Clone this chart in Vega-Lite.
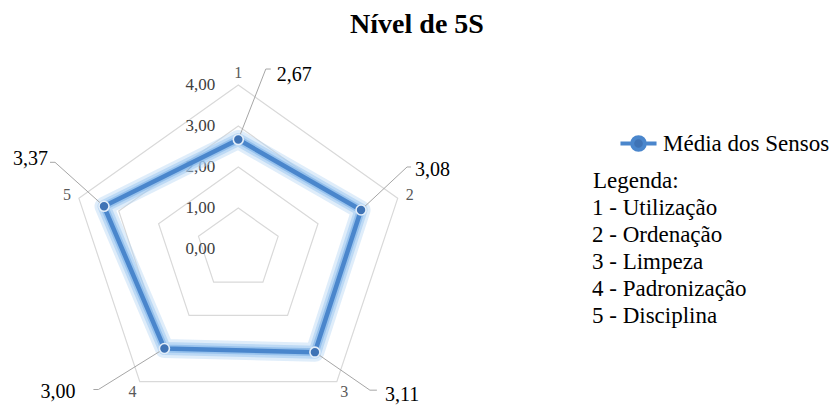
{
  "$schema": "https://vega.github.io/schema/vega-lite/v6.json",
  "width": 838,
  "height": 367,
  "autosize": "none",
  "padding": {"top": 40, "left": 0, "right": 0, "bottom": 0},
  "title": {"text": "Nível de 5S", "font": "Liberation Serif", "fontSize": 28, "fontWeight": "bold", "color": "#000000", "anchor": "middle", "frame": "group", "offset": -21, "baseline": "alphabetic", "dx": -2},
  "datasets": {
    "serie": [
      {"eixo": 1, "senso": "Utilização", "valor": 2.67},
      {"eixo": 2, "senso": "Ordenação", "valor": 3.08},
      {"eixo": 3, "senso": "Limpeza", "valor": 3.11},
      {"eixo": 4, "senso": "Padronização", "valor": 3.00},
      {"eixo": 5, "senso": "Disciplina", "valor": 3.37}
    ],
    "grade": [
      {"nivel": 1, "eixo": 1}, {"nivel": 1, "eixo": 2}, {"nivel": 1, "eixo": 3}, {"nivel": 1, "eixo": 4}, {"nivel": 1, "eixo": 5},
      {"nivel": 2, "eixo": 1}, {"nivel": 2, "eixo": 2}, {"nivel": 2, "eixo": 3}, {"nivel": 2, "eixo": 4}, {"nivel": 2, "eixo": 5},
      {"nivel": 3, "eixo": 1}, {"nivel": 3, "eixo": 2}, {"nivel": 3, "eixo": 3}, {"nivel": 3, "eixo": 4}, {"nivel": 3, "eixo": 5},
      {"nivel": 4, "eixo": 1}, {"nivel": 4, "eixo": 2}, {"nivel": 4, "eixo": 3}, {"nivel": 4, "eixo": 4}, {"nivel": 4, "eixo": 5}
    ],
    "niveis": [{"nivel": 0}, {"nivel": 1}, {"nivel": 2}, {"nivel": 3}, {"nivel": 4}]
  },
  "encoding": {
    "x": {"field": "px", "type": "quantitative", "scale": {"domain": [-5.6874, 14.3126], "nice": false, "zero": false}, "axis": null},
    "y": {"field": "py", "type": "quantitative", "scale": {"domain": [-3.8537, 5.0976], "nice": false, "zero": false}, "axis": null}
  },
  "layer": [
    {
      "data": {"name": "grade"},
      "transform": [
        {"calculate": "(datum.eixo - 1) * 2 * PI / 5", "as": "ang"},
        {"calculate": "datum.nivel * sin(datum.ang)", "as": "px"},
        {"calculate": "datum.nivel * cos(datum.ang)", "as": "py"}
      ],
      "mark": {"type": "line", "interpolate": "linear-closed", "color": "#d9d9d9", "strokeWidth": 1.2},
      "encoding": {"detail": {"field": "nivel", "type": "nominal"}, "order": {"field": "eixo", "type": "quantitative"}}
    },
    {
      "data": {"name": "niveis"},
      "transform": [
        {"calculate": "0", "as": "px"},
        {"calculate": "datum.nivel", "as": "py"}
      ],
      "mark": {"type": "text", "align": "right", "baseline": "middle", "dx": -23, "font": "Liberation Serif", "fontSize": 17, "color": "#404040"},
      "encoding": {"text": {"field": "nivel", "type": "quantitative", "format": ".2f"}}
    },
    {
      "data": {"name": "serie"},
      "transform": [
        {"calculate": "(datum.eixo - 1) * 2 * PI / 5", "as": "ang"},
        {"calculate": "datum.valor * sin(datum.ang)", "as": "px"},
        {"calculate": "datum.valor * cos(datum.ang)", "as": "py"}
      ],
      "mark": {"type": "line", "interpolate": "linear-closed", "color": "#b9d8f5", "strokeWidth": 19, "opacity": 0.45, "strokeJoin": "round"},
      "encoding": {"order": {"field": "eixo", "type": "quantitative"}}
    },
    {
      "data": {"name": "serie"},
      "transform": [
        {"calculate": "(datum.eixo - 1) * 2 * PI / 5", "as": "ang"},
        {"calculate": "datum.valor * sin(datum.ang)", "as": "px"},
        {"calculate": "datum.valor * cos(datum.ang)", "as": "py"}
      ],
      "mark": {"type": "line", "interpolate": "linear-closed", "color": "#9fc9f0", "strokeWidth": 13, "opacity": 0.55, "strokeJoin": "round"},
      "encoding": {"order": {"field": "eixo", "type": "quantitative"}}
    },
    {
      "data": {"name": "serie"},
      "transform": [
        {"calculate": "(datum.eixo - 1) * 2 * PI / 5", "as": "ang"},
        {"calculate": "datum.valor * sin(datum.ang)", "as": "px"},
        {"calculate": "datum.valor * cos(datum.ang)", "as": "py"}
      ],
      "mark": {"type": "line", "interpolate": "linear-closed", "color": "#7fb3e8", "strokeWidth": 8, "opacity": 0.6, "strokeJoin": "round"},
      "encoding": {"order": {"field": "eixo", "type": "quantitative"}}
    },
    {
      "data": {"name": "serie"},
      "transform": [
        {"calculate": "(datum.eixo - 1) * 2 * PI / 5", "as": "ang"},
        {"calculate": "datum.valor * sin(datum.ang)", "as": "px"},
        {"calculate": "datum.valor * cos(datum.ang)", "as": "py"}
      ],
      "mark": {"type": "line", "interpolate": "linear-closed", "strokeWidth": 4.5, "strokeJoin": "round"},
      "encoding": {
        "order": {"field": "eixo", "type": "quantitative"},
        "color": {"datum": "Média dos Sensos", "type": "nominal", "scale": {"range": ["#4a86cc"]},
          "legend": {"orient": "none", "legendX": 618, "legendY": 83, "title": null, "padding": 0,
            "symbolType": "M-1,0L-0.35,0M0.35,0L1,0M0.35,0A0.35,0.35,0,1,1,-0.35,0A0.35,0.35,0,1,1,0.35,0",
            "symbolSize": 1300, "symbolStrokeWidth": 4, "symbolFillColor": "#3f73b5", "symbolStrokeColor": "#4a86cc",
            "labelFont": "Liberation Serif", "labelFontSize": 23, "labelColor": "#000000", "labelOffset": 4, "labelLimit": 400}}
      }
    },
    {"data": {"name": "serie"}, "transform": [{"filter": "datum.eixo == 1"}, {"calculate": "datum.valor * sin((datum.eixo - 1) * 2 * PI / 5)", "as": "px"}, {"calculate": "datum.valor * cos((datum.eixo - 1) * 2 * PI / 5)", "as": "py"}],
      "mark": {"type": "rule", "color": "#a6a6a6", "strokeWidth": 1, "x2Offset": 27.5, "y2Offset": -70.5},
      "encoding": {"x2": {"field": "px"}, "y2": {"field": "py"}}},
    {"data": {"name": "serie"}, "transform": [{"filter": "datum.eixo == 1"}, {"calculate": "datum.valor * sin((datum.eixo - 1) * 2 * PI / 5)", "as": "px"}, {"calculate": "datum.valor * cos((datum.eixo - 1) * 2 * PI / 5)", "as": "py"}],
      "mark": {"type": "rule", "color": "#a6a6a6", "strokeWidth": 1, "xOffset": 27.5, "yOffset": -70.5, "x2Offset": 32.5, "y2Offset": -70.5},
      "encoding": {"x2": {"field": "px"}, "y2": {"field": "py"}}},
    {"data": {"name": "serie"}, "transform": [{"filter": "datum.eixo == 1"}, {"calculate": "datum.valor * sin((datum.eixo - 1) * 2 * PI / 5)", "as": "px"}, {"calculate": "datum.valor * cos((datum.eixo - 1) * 2 * PI / 5)", "as": "py"}],
      "mark": {"type": "text", "align": "left", "baseline": "middle", "dx": 38.5, "dy": -64.5, "font": "Liberation Serif", "fontSize": 20, "color": "#000000"},
      "encoding": {"text": {"field": "valor", "type": "quantitative", "format": ".2f"}}},
    {"data": {"name": "serie"}, "transform": [{"filter": "datum.eixo == 2"}, {"calculate": "datum.valor * sin((datum.eixo - 1) * 2 * PI / 5)", "as": "px"}, {"calculate": "datum.valor * cos((datum.eixo - 1) * 2 * PI / 5)", "as": "py"}],
      "mark": {"type": "rule", "color": "#a6a6a6", "strokeWidth": 1, "x2Offset": 46, "y2Offset": -43},
      "encoding": {"x2": {"field": "px"}, "y2": {"field": "py"}}},
    {"data": {"name": "serie"}, "transform": [{"filter": "datum.eixo == 2"}, {"calculate": "datum.valor * sin((datum.eixo - 1) * 2 * PI / 5)", "as": "px"}, {"calculate": "datum.valor * cos((datum.eixo - 1) * 2 * PI / 5)", "as": "py"}],
      "mark": {"type": "rule", "color": "#a6a6a6", "strokeWidth": 1, "xOffset": 46, "yOffset": -43, "x2Offset": 50, "y2Offset": -43},
      "encoding": {"x2": {"field": "px"}, "y2": {"field": "py"}}},
    {"data": {"name": "serie"}, "transform": [{"filter": "datum.eixo == 2"}, {"calculate": "datum.valor * sin((datum.eixo - 1) * 2 * PI / 5)", "as": "px"}, {"calculate": "datum.valor * cos((datum.eixo - 1) * 2 * PI / 5)", "as": "py"}],
      "mark": {"type": "text", "align": "left", "baseline": "middle", "dx": 54, "dy": -40, "font": "Liberation Serif", "fontSize": 20, "color": "#000000"},
      "encoding": {"text": {"field": "valor", "type": "quantitative", "format": ".2f"}}},
    {"data": {"name": "serie"}, "transform": [{"filter": "datum.eixo == 3"}, {"calculate": "datum.valor * sin((datum.eixo - 1) * 2 * PI / 5)", "as": "px"}, {"calculate": "datum.valor * cos((datum.eixo - 1) * 2 * PI / 5)", "as": "py"}],
      "mark": {"type": "rule", "color": "#a6a6a6", "strokeWidth": 1, "x2Offset": 55, "y2Offset": 38},
      "encoding": {"x2": {"field": "px"}, "y2": {"field": "py"}}},
    {"data": {"name": "serie"}, "transform": [{"filter": "datum.eixo == 3"}, {"calculate": "datum.valor * sin((datum.eixo - 1) * 2 * PI / 5)", "as": "px"}, {"calculate": "datum.valor * cos((datum.eixo - 1) * 2 * PI / 5)", "as": "py"}],
      "mark": {"type": "rule", "color": "#a6a6a6", "strokeWidth": 1, "xOffset": 55, "yOffset": 38, "x2Offset": 62, "y2Offset": 38},
      "encoding": {"x2": {"field": "px"}, "y2": {"field": "py"}}},
    {"data": {"name": "serie"}, "transform": [{"filter": "datum.eixo == 3"}, {"calculate": "datum.valor * sin((datum.eixo - 1) * 2 * PI / 5)", "as": "px"}, {"calculate": "datum.valor * cos((datum.eixo - 1) * 2 * PI / 5)", "as": "py"}],
      "mark": {"type": "text", "align": "left", "baseline": "middle", "dx": 70, "dy": 43, "font": "Liberation Serif", "fontSize": 20, "color": "#000000"},
      "encoding": {"text": {"field": "valor", "type": "quantitative", "format": ".2f"}}},
    {"data": {"name": "serie"}, "transform": [{"filter": "datum.eixo == 4"}, {"calculate": "datum.valor * sin((datum.eixo - 1) * 2 * PI / 5)", "as": "px"}, {"calculate": "datum.valor * cos((datum.eixo - 1) * 2 * PI / 5)", "as": "py"}],
      "mark": {"type": "rule", "color": "#a6a6a6", "strokeWidth": 1, "x2Offset": -66, "y2Offset": 41},
      "encoding": {"x2": {"field": "px"}, "y2": {"field": "py"}}},
    {"data": {"name": "serie"}, "transform": [{"filter": "datum.eixo == 4"}, {"calculate": "datum.valor * sin((datum.eixo - 1) * 2 * PI / 5)", "as": "px"}, {"calculate": "datum.valor * cos((datum.eixo - 1) * 2 * PI / 5)", "as": "py"}],
      "mark": {"type": "rule", "color": "#a6a6a6", "strokeWidth": 1, "xOffset": -66, "yOffset": 41, "x2Offset": -71, "y2Offset": 41},
      "encoding": {"x2": {"field": "px"}, "y2": {"field": "py"}}},
    {"data": {"name": "serie"}, "transform": [{"filter": "datum.eixo == 4"}, {"calculate": "datum.valor * sin((datum.eixo - 1) * 2 * PI / 5)", "as": "px"}, {"calculate": "datum.valor * cos((datum.eixo - 1) * 2 * PI / 5)", "as": "py"}],
      "mark": {"type": "text", "align": "right", "baseline": "middle", "dx": -89, "dy": 43, "font": "Liberation Serif", "fontSize": 20, "color": "#000000"},
      "encoding": {"text": {"field": "valor", "type": "quantitative", "format": ".2f"}}},
    {"data": {"name": "serie"}, "transform": [{"filter": "datum.eixo == 5"}, {"calculate": "datum.valor * sin((datum.eixo - 1) * 2 * PI / 5)", "as": "px"}, {"calculate": "datum.valor * cos((datum.eixo - 1) * 2 * PI / 5)", "as": "py"}],
      "mark": {"type": "rule", "color": "#a6a6a6", "strokeWidth": 1, "x2Offset": -49, "y2Offset": -44},
      "encoding": {"x2": {"field": "px"}, "y2": {"field": "py"}}},
    {"data": {"name": "serie"}, "transform": [{"filter": "datum.eixo == 5"}, {"calculate": "datum.valor * sin((datum.eixo - 1) * 2 * PI / 5)", "as": "px"}, {"calculate": "datum.valor * cos((datum.eixo - 1) * 2 * PI / 5)", "as": "py"}],
      "mark": {"type": "rule", "color": "#a6a6a6", "strokeWidth": 1, "xOffset": -49, "yOffset": -44, "x2Offset": -54, "y2Offset": -44},
      "encoding": {"x2": {"field": "px"}, "y2": {"field": "py"}}},
    {"data": {"name": "serie"}, "transform": [{"filter": "datum.eixo == 5"}, {"calculate": "datum.valor * sin((datum.eixo - 1) * 2 * PI / 5)", "as": "px"}, {"calculate": "datum.valor * cos((datum.eixo - 1) * 2 * PI / 5)", "as": "py"}],
      "mark": {"type": "text", "align": "right", "baseline": "middle", "dx": -56, "dy": -47, "font": "Liberation Serif", "fontSize": 20, "color": "#000000"},
      "encoding": {"text": {"field": "valor", "type": "quantitative", "format": ".2f"}}},
    {
      "data": {"name": "serie"},
      "transform": [
        {"calculate": "(datum.eixo - 1) * 2 * PI / 5", "as": "ang"},
        {"calculate": "datum.valor * sin(datum.ang)", "as": "px"},
        {"calculate": "datum.valor * cos(datum.ang)", "as": "py"}
      ],
      "mark": {"type": "point", "shape": "circle", "filled": true, "size": 100, "fill": "#3f73b5", "stroke": "#e3eef9", "strokeWidth": 1.6, "opacity": 1}
    },
    {
      "data": {"name": "serie"},
      "transform": [
        {"calculate": "(datum.eixo - 1) * 2 * PI / 5", "as": "ang"},
        {"calculate": "4.3 * sin(datum.ang)", "as": "px"},
        {"calculate": "4.3 * cos(datum.ang)", "as": "py"}
      ],
      "mark": {"type": "text", "align": "center", "baseline": "middle", "font": "Liberation Serif", "fontSize": 16, "color": "#595959"},
      "encoding": {"text": {"field": "eixo", "type": "nominal"}}
    },
    {
      "data": {"name": "serie"},
      "transform": [
        {"calculate": "(datum.eixo - 1) * 2 * PI / 5", "as": "ang"},
        {"calculate": "4.3 * sin(datum.ang)", "as": "px"},
        {"calculate": "4.3 * cos(datum.ang)", "as": "py"},
        {"calculate": "datum.eixo + ' - ' + datum.senso", "as": "legenda"}
      ],
      "mark": {"type": "point", "opacity": 0},
      "encoding": {
        "shape": {"field": "legenda", "type": "nominal", "sort": {"field": "eixo"},
          "legend": {"orient": "none", "legendX": 593, "legendY": 130, "title": "Legenda:", "padding": 0,
            "titleFont": "Liberation Serif", "titleFontSize": 23, "titleFontWeight": "normal", "titleColor": "#000000", "titlePadding": 3,
            "labelFont": "Liberation Serif", "labelFontSize": 23, "labelColor": "#000000", "labelOffset": -24, "labelLimit": 400,
            "symbolOpacity": 0, "symbolSize": 0, "rowPadding": 3}}
      }
    }
  ],
  "config": {
    "view": {"stroke": null},
    "locale": {"number": {"decimal": ",", "thousands": ".", "grouping": [3], "currency": ["R$", ""]}}
  }
}
